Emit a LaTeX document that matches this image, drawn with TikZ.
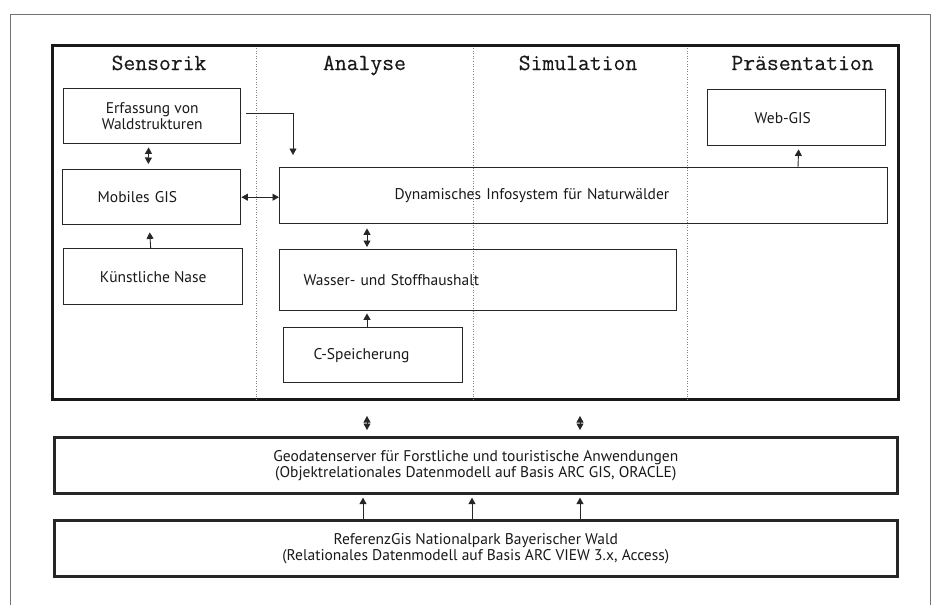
\documentclass[tikz,border=0pt]{standalone}
\usepackage{fontspec}
\setmainfont{PT Sans}
\newfontfamily\headfont[FakeBold=0.35]{Latin Modern Mono}
\usetikzlibrary{arrows.meta, positioning}

\begin{document}
\begin{tikzpicture}[x=1pt, y=-1pt, >={Triangle[length=6.5pt, width=7pt]},
    box/.style={draw=black!85, line width=1.4pt, rectangle, anchor=north west,
      inner sep=0pt, text=black!90, font=\fontsize{15.5}{16}\selectfont},
    bigbox/.style={box, line width=2.6pt, align=center, minimum width=843pt, minimum height=56pt},
    head/.style={font=\headfont\fontsize{23}{27}\selectfont, anchor=base, text=black!90},
    col/.style={draw=black!50, dotted, line width=0.6pt},
    link/.style={draw=black!85, line width=0.9pt}]

    \useasboundingbox (0,0) rectangle (935,605);

    % Frame and panel
    \draw[black!55, line width=0.8pt] (10,610) -- (10,14) -- (930,14) -- (930,610);
    \node (panel) [draw=black!90, line width=3pt, anchor=north west, minimum width=846pt,
      minimum height=354pt, inner sep=0pt] at (51,44) {};
    \foreach \x in {205,422,636}
      \draw[col] ([xshift=\x pt, yshift=-4pt]panel.north west) -- ([xshift=\x pt]panel.south west);

    % Column heads
    \node (sens) [head] at (159,70) {Sensorik};
    \node (ana) [head] at (364.5,70) {Analyse};
    \node (sim) [head] at (578,70) {Simulation};
    \node (pres) [head] at (802.5,70) {Präsentation};

    % Boxes
    \node (erf) [box, align=center, minimum width=177pt, minimum height=55pt] at (63,88)
      {Erfassung von\\Waldstrukturen};
    \node (mob) [box, minimum width=178pt, minimum height=55pt, inner xsep=35pt,
      text width=108pt, align=left] at (62,169) {Mobiles GIS};
    \node (nase) [box, minimum width=179pt, minimum height=56pt] at (63,248) {Künstliche Nase};
    \node (web) [box, minimum width=178pt, minimum height=56pt, inner xsep=47pt,
      text width=84pt, align=left] at (707,89) {Web-GIS};
    \node (dyn) [box, minimum width=608pt, minimum height=56pt, inner xsep=115pt,
      text width=378pt, align=left] at (279,167) {Dynamisches Infosystem für Naturwälder};
    \node (was) [box, minimum width=397pt, minimum height=61pt, inner xsep=24pt,
      text width=349pt, align=left] at (279,249) {Wasser- und Stoffhaushalt};
    \node (cs) [box, minimum width=179pt, minimum height=55pt, inner xsep=30pt,
      text width=119pt, align=left] at (283,327) {C-Speicherung};
    \node (geo) [bigbox] at (53,436)
      {Geodatenserver für Forstliche und touristische Anwendungen\\
       (Objektrelationales Datenmodell auf Basis ARC GIS, ORACLE)};
    \node (ref) [bigbox] at (53,519)
      {ReferenzGis Nationalpark Bayerischer Wald\\
       (Relationales Datenmodell auf Basis ARC VIEW 3.x, Access)};

    % Arrows
    \draw[link, <->, shorten <=3pt, shorten >=5pt] ([xshift=-3.5pt]erf.south) -- ([xshift=-3.5pt]mob.north);
    \draw[link, ->, shorten >=7pt] ([xshift=-2.5pt]nase.north) -- ([xshift=-2.5pt]mob.south);
    \draw[link, <->] (mob.east) -- (mob.east -| dyn.west);
    \draw[link, ->, shorten >=12pt] ([xshift=5pt, yshift=3pt]erf.east) -| ([xshift=14pt]dyn.north west);
    \draw[link, <->, shorten <=4pt, shorten >=2pt] ([xshift=88pt]dyn.south west) -- ([xshift=88pt]was.north west);
    \draw[link, ->, shorten >=2pt] ([xshift=84pt]cs.north west) -- ([xshift=88pt]was.south west);
    \draw[link, ->, shorten >=3pt] ([xshift=519pt]dyn.north west) -- ([xshift=2pt]web.south);
    \foreach \a/\b in {316/314, 529/527}
      \draw[link, <->, shorten <=15pt, shorten >=6pt] ([xshift=\a pt]panel.south west) -- ([xshift=\b pt]geo.north west);
    \foreach \x in {310,419,527}
      \draw[link, ->, shorten >=3pt] ([xshift=\x pt]ref.north west) -- ([xshift=\x pt]geo.south west);

\end{tikzpicture}
\end{document}
